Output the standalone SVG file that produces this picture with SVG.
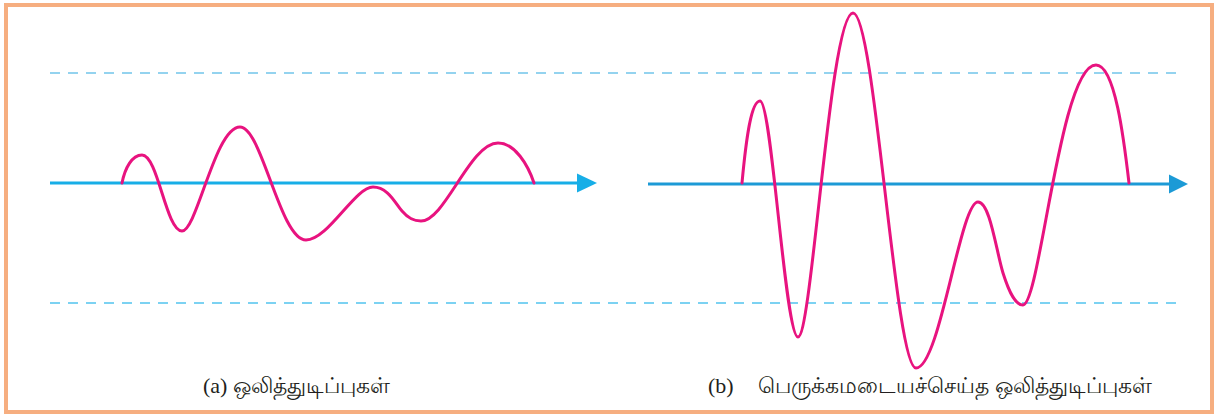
<svg xmlns="http://www.w3.org/2000/svg" width="1217" height="417" viewBox="0 0 1217 417">
<style>
.frame{fill:#fff;stroke:#F6AE80;stroke-width:4}
.dashTop{stroke:#2AA7DF;stroke-width:1.2;stroke-dasharray:10 8;fill:none}
.dashBot{stroke:#52C3EE;stroke-width:1.6;stroke-dasharray:10 8;fill:none}
.wave{fill:none;stroke:#E8137F;stroke-width:3;stroke-linejoin:round;stroke-linecap:round}
.lbl{font-family:"Liberation Serif","Noto Sans",serif;font-size:22px;fill:#231F20}
.tam{font-family:"Noto Sans","Lato",sans-serif;font-size:22px;fill:#231F20}
</style>
<rect class="frame" x="6" y="5" width="1206" height="407"/>
<g id="guides">
<line class="dashTop" x1="50" y1="73" x2="1180" y2="73"/>
<line class="dashBot" x1="50" y1="303" x2="1180" y2="303"/>
</g>
<g id="panel-a">
<line x1="50" y1="183" x2="580" y2="183" stroke="#17AEE7" stroke-width="3"/>
<polygon points="597,183 577,173.5 577,192.5" fill="#17AEE7"/>
<path class="wave" d="M122,183 C125,168 132,155 142,155 C158,155 166,231 182,231 C197,231 215,127 240,127 C262,127 280,240 306,240 C328,240 355,187 373,187 C388,187 395,203 402,211 C408,218 413,221 421,221 C445,221 470,143 498,143 C515,143 528,165 534,183"/>
<text class="lbl" x="203" y="393">(a) <tspan class="tam">ஒலித்துடிப்புகள்</tspan></text>
</g>
<g id="panel-b">
<line x1="648" y1="184" x2="1172" y2="184" stroke="#1C9AD6" stroke-width="3"/>
<polygon points="1188,184 1169,174.5 1169,193.5" fill="#1C9AD6"/>
<path class="wave" d="M742,183 C746,140 751,101 760,101 C772,101 785,337 798,337 C812,337 830,13 853,13 C875,13 895,368 916,368 C940,368 960,202 978,202 C990,202 996,250 1003,273 C1010,295 1016,305 1023,305 C1040,305 1060,65 1096,65 C1115,65 1124,140 1129,183"/>
<text class="lbl" x="708" y="393">(b)</text>
<text class="tam" x="758" y="393">பெருக்கமடையச்செய்த ஒலித்துடிப்புகள்</text>
</g>
</svg>
